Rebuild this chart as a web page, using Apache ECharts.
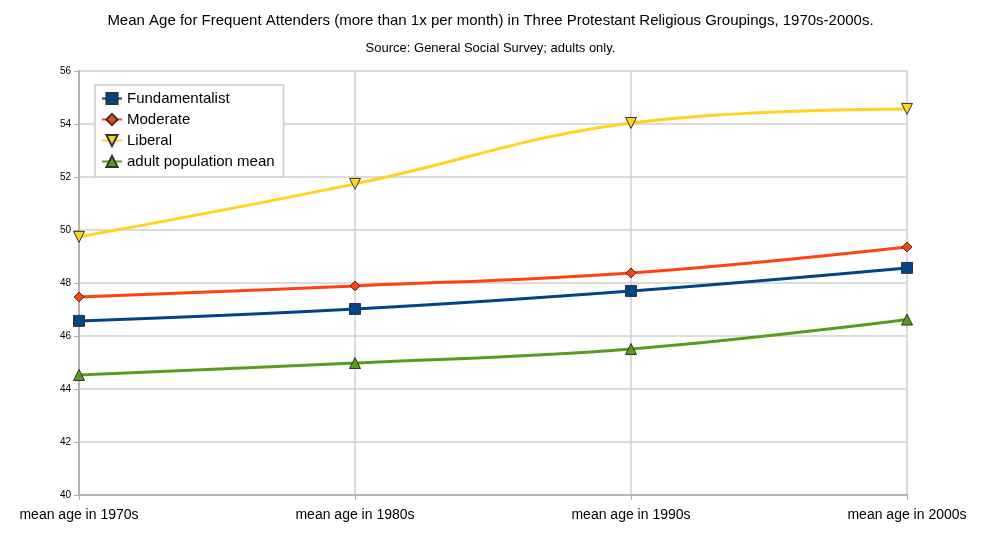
<!DOCTYPE html>
<html><head><meta charset="utf-8">
<script src="https://cdn.jsdelivr.net/npm/echarts@6/dist/echarts.min.js"></script>
<style>html,body{margin:0;padding:0;background:#fff}#c{width:981px;height:539px}</style>
</head><body><div id="c"></div>
<script>
const categories = ["mean age in 1970s","mean age in 1980s","mean age in 1990s","mean age in 2000s"];
const fundamentalist = [46.57, 47.02, 47.70, 48.57];
const moderate = [47.47, 47.89, 48.38, 49.36];
const liberal = [49.74, 51.74, 54.04, 54.57];
const adultMean = [44.53, 44.98, 45.51, 46.62];
const yTicks = [40, 42, 44, 46, 48, 50, 52, 54, 56];

const chart = echarts.init(document.getElementById('c'));
function s(name, data, color, symbol, size, rotate) {
  return {
    name, type: 'line', data, smooth: 0.4, symbol, symbolSize: size, symbolRotate: rotate || 0,
    lineStyle: {color, width: 3},
    itemStyle: {color, borderColor: '#333', borderWidth: 1},
    emphasis: {disabled: true}, z: 3
  };
}
chart.setOption({
  animation: false,
  title: {
    text: 'Mean Age for Frequent Attenders (more than 1x per month) in Three Protestant Religious Groupings, 1970s-2000s.',
    subtext: 'Source: General Social Survey; adults only.',
    left: 'center', top: 8, itemGap: 14,
    textStyle: {fontFamily: 'Liberation Sans', fontSize: 15, fontWeight: 'normal', color: '#000'},
    subtextStyle: {fontFamily: 'Liberation Sans', fontSize: 13, color: '#000'}
  },
  legend: {
    orient: 'vertical', left: 95, top: 85, padding: [6, 9, 8, 6], itemGap: 6,
    itemWidth: 20, itemHeight: 14,
    backgroundColor: '#fff', borderColor: '#ccc', borderWidth: 1.5,
    textStyle: {fontFamily: 'Liberation Sans', fontSize: 15, color: '#000'},
    data: ['Fundamentalist', 'Moderate', 'Liberal', 'adult population mean']
  },
  grid: {left: 79, right: 74, top: 71, bottom: 44},
  xAxis: {
    type: 'category', data: categories, boundaryGap: false,
    axisLine: {lineStyle: {color: '#b3b3b3', width: 2}},
    axisTick: {show: true, alignWithLabel: true, lineStyle: {color: '#b3b3b3'}},
    axisLabel: {fontFamily: 'Liberation Sans', fontSize: 14, color: '#000', margin: 13},
    splitLine: {show: true, lineStyle: {color: '#d0d0d0', width: 1.5}}
  },
  yAxis: {
    type: 'value', min: yTicks[0], max: yTicks[yTicks.length - 1], interval: 2,
    axisLine: {show: true, lineStyle: {color: '#b3b3b3', width: 2}},
    axisTick: {show: true, length: 5, lineStyle: {color: '#b3b3b3'}},
    axisLabel: {fontFamily: 'Liberation Sans', fontSize: 10, color: '#000', margin: 8},
    splitLine: {show: true, lineStyle: {color: '#d0d0d0', width: 1.5}}
  },
  series: [
    s('Fundamentalist', fundamentalist, '#004586', 'rect', 11),
    s('Moderate', moderate, '#ff420e', 'diamond', 10),
    s('Liberal', liberal, '#ffd320', 'triangle', 11, 180),
    s('adult population mean', adultMean, '#579d1c', 'triangle', 11)
  ]
});
</script></body></html>
